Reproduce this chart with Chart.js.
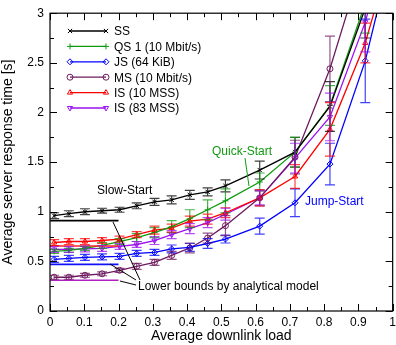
<!DOCTYPE html>
<html>
<head>
<meta charset="utf-8">
<script src="https://cdn.jsdelivr.net/npm/chart.js@4"></script>
<style>
  body { margin: 0; overflow: hidden; background: #fff; }
  #wrap { width: 400px; height: 345px; }
</style>
</head>
<body>
<div id="wrap"><canvas id="grafica" width="400" height="345"></canvas></div>
<script>
// load values (x) shared by all series
const cargas = [0.012, 0.055, 0.102, 0.152, 0.203, 0.253, 0.305, 0.355, 0.408, 0.46, 0.512, 0.612, 0.715, 0.817, 0.92, 0.975];

const ss   = [0.96, 0.98, 1.00, 1.01, 1.02, 1.06, 1.10, 1.12, 1.17, 1.20, 1.26, 1.42, 1.60, 2.06, 3.05, 3.7];
const qs   = [0.60, 0.61, 0.63, 0.66, 0.70, 0.74, 0.79, 0.85, 0.93, 1.02, 1.11, 1.30, 1.60, 2.07, 3.1, 3.7];
const js   = [0.52, 0.53, 0.54, 0.545, 0.55, 0.58, 0.59, 0.625, 0.64, 0.68, 0.725, 0.855, 1.09, 1.48, 2.52, 3.3];
const ms   = [0.34, 0.34, 0.36, 0.375, 0.41, 0.45, 0.49, 0.56, 0.635, 0.735, 0.86, 1.14, 1.55, 2.44, 3.6, 4.5];
const is10 = [0.69, 0.70, 0.70, 0.71, 0.725, 0.77, 0.815, 0.835, 0.905, 0.925, 0.99, 1.14, 1.355, 1.83, 2.70, 3.36];
const is83 = [0.62, 0.62, 0.625, 0.63, 0.65, 0.67, 0.71, 0.77, 0.83, 0.89, 0.975, 1.14, 1.54, 1.955, 2.91, 3.6];

// error bar half widths
const errSS   = [0.03, 0.03, 0.03, 0.025, 0.025, 0.03, 0.035, 0.04, 0.045, 0.04, 0.06, 0.09, 0.15, 0.25, 0.3, 0];
const errQS   = [0.02, 0.02, 0.02, 0.03, 0.03, 0.04, 0.05, 0.06, 0.09, 0.1, 0.12, 0.09, 0.15, 0.2, 0.3, 0];
const errJS   = [0.03, 0.03, 0.03, 0.03, 0.03, 0.03, 0.03, 0.04, 0.04, 0.05, 0.04, 0.08, 0.14, 0.21, 0.42, 0];
const errMS   = [0.02, 0.02, 0.02, 0.02, 0.02, 0.03, 0.03, 0.04, 0.05, 0.05, 0.1, 0.08, 0.17, 0.33, 0.4, 0];
const errIS10 = [0.03, 0.03, 0.03, 0.03, 0.03, 0.03, 0.04, 0.04, 0.05, 0.05, 0.05, 0.08, 0.12, 0.27, 0.2, 0];
const errIS83 = [0.03, 0.03, 0.03, 0.03, 0.03, 0.03, 0.04, 0.04, 0.05, 0.05, 0.06, 0.07, 0.15, 0.24, 0.3, 0];

// analytical lower bounds (load 0 .. 0.2)
const cotaX = [0, 0.2];
const cotaSS = 0.91;
const cotaIS10 = 0.655;
const cotaJS = 0.47;
const cotaMS = 0.31;

const xTicks = [0, 0.1, 0.2, 0.3, 0.4, 0.5, 0.6, 0.7, 0.8, 0.9, 1];
const yTicks = [0, 0.5, 1, 1.5, 2, 2.5, 3];

const FONT = "'Liberation Sans', Arial, sans-serif";

function serie(label, vals, err, color, style, rot) {
  return {
    label: label,
    data: cargas.map((x, i) => ({ x: x, y: vals[i] })),
    err: err,
    borderColor: color,
    backgroundColor: 'rgba(0,0,0,0)',
    borderWidth: 1.3,
    pointStyle: style,
    pointRadius: 3,
    pointRotation: rot || 0,
    pointBorderWidth: 1,
    pointBorderColor: color,
    tension: 0,
    enLeyenda: true
  };
}

function cota(y, color) {
  return {
    data: cotaX.map(x => ({ x: x, y: y })),
    borderColor: color,
    borderWidth: 1.6,
    pointRadius: 0,
    enLeyenda: false
  };
}

const datasets = [
  cota(cotaSS, '#000000'),
  cota(cotaIS10, '#ff2020'),
  cota(cotaJS, '#1010ff'),
  cota(cotaMS, '#b020c0'),
  serie('SS', ss, errSS, '#000000', 'crossRot'),
  serie('QS 1 (10 Mbit/s)', qs, errQS, '#109a10', 'cross'),
  serie('JS (64 KiB)', js, errJS, '#0000ff', 'rectRot'),
  serie('MS (10 Mbit/s)', ms, errMS, '#6e1a5e', 'circle'),
  serie('IS (10 MSS)', is10, errIS10, '#ff0000', 'triangle'),
  serie('IS (83 MSS)', is83, errIS83, '#9a10f0', 'triangle', 180)
];

const marcoPlugin = {
  id: 'marco',
  afterDatasetsDraw(chart) {
    const ctx = chart.ctx;
    const a = chart.chartArea;
    const xs = chart.scales.x, ys = chart.scales.y;
    // error bars
    ctx.save();
    ctx.beginPath();
    ctx.rect(a.left, a.top, a.right - a.left, a.bottom - a.top);
    ctx.clip();
    chart.data.datasets.forEach(ds => {
      if (!ds.err) return;
      ctx.strokeStyle = ds.borderColor;
      ctx.globalAlpha = 0.75;
      ctx.lineWidth = 1.2;
      ds.data.forEach((p, i) => {
        const e = ds.err[i];
        if (!e) return;
        const px = xs.getPixelForValue(p.x);
        const y1 = ys.getPixelForValue(p.y + e);
        const y2 = ys.getPixelForValue(p.y - e);
        ctx.beginPath();
        ctx.moveTo(px, y1); ctx.lineTo(px, y2);
        ctx.moveTo(px - 5, y1); ctx.lineTo(px + 5, y1);
        ctx.moveTo(px - 5, y2); ctx.lineTo(px + 5, y2);
        ctx.stroke();
      });
    });
    ctx.restore();
  },
  afterDraw(chart) {
    const ctx = chart.ctx;
    const a = chart.chartArea;
    const xs = chart.scales.x, ys = chart.scales.y;
    ctx.save();
    ctx.strokeStyle = '#000';
    ctx.lineWidth = 1.2;
    ctx.strokeRect(a.left, a.top, a.right - a.left, a.bottom - a.top);
    ctx.lineWidth = 1;
    ctx.beginPath();
    for (let v = 0; v <= 1.0001; v += 0.05) {
      const px = Math.round(xs.getPixelForValue(v)) + 0.5;
      const major = Math.abs(v * 10 - Math.round(v * 10)) < 0.01;
      const len = major ? 7 : 4;
      ctx.moveTo(px, a.bottom); ctx.lineTo(px, a.bottom - len);
      ctx.moveTo(px, a.top); ctx.lineTo(px, a.top + len);
    }
    for (let v = 0; v <= 3.0001; v += 0.25) {
      const py = Math.round(ys.getPixelForValue(v)) + 0.5;
      const major = Math.abs(v * 2 - Math.round(v * 2)) < 0.01;
      const len = major ? 7 : 4;
      ctx.moveTo(a.left, py); ctx.lineTo(a.left + len, py);
      ctx.moveTo(a.right, py); ctx.lineTo(a.right - len, py);
    }
    ctx.stroke();

    // legend inside the plot
    let fila = 31;
    ctx.font = '12px ' + FONT;
    ctx.textBaseline = 'middle';
    ctx.textAlign = 'left';
    chart.data.datasets.forEach(ds => {
      if (!ds.enLeyenda) return;
      ctx.strokeStyle = ds.borderColor;
      ctx.lineWidth = 1.3;
      ctx.beginPath();
      ctx.moveTo(70, fila); ctx.lineTo(106, fila);
      ctx.stroke();
      ctx.fillStyle = 'rgba(0,0,0,0)';
      ctx.lineWidth = 1;
      [70, 106].forEach(px => {
        Chart.helpers.drawPoint(ctx, { pointStyle: ds.pointStyle, radius: 3, rotation: ds.pointRotation, borderWidth: 1 }, px, fila);
      });
      ctx.fillStyle = '#000';
      ctx.fillText(ds.label, 114, fila + 1);
      fila += 15.4;
    });

    // annotations
    ctx.fillStyle = '#000';
    ctx.fillText('Slow-Start', 97, 191);
    ctx.fillText('Lower bounds by analytical model', 138, 287);
    ctx.fillStyle = '#109a10';
    ctx.fillText('Quick-Start', 212, 152);
    ctx.fillStyle = '#0000ff';
    ctx.fillText('Jump-Start', 305, 202);

    ctx.lineWidth = 1;
    ctx.strokeStyle = '#000';
    ctx.beginPath();
    ctx.moveTo(113, 222); ctx.lineTo(140, 280);
    ctx.moveTo(110, 264); ctx.lineTo(136, 280);
    ctx.moveTo(120, 281); ctx.lineTo(136, 285);
    ctx.stroke();
    ctx.strokeStyle = '#109a10';
    ctx.beginPath();
    ctx.moveTo(245, 158); ctx.lineTo(249, 186);
    ctx.stroke();
    ctx.restore();
  }
};

new Chart(document.getElementById('grafica'), {
  type: 'line',
  data: { datasets: datasets },
  options: {
    responsive: false,
    animation: false,
    layout: { autoPadding: false, padding: { top: 10, right: 3, left: 0, bottom: 0 } },
    plugins: { legend: { display: false }, tooltip: { enabled: false } },
    scales: {
      x: {
        type: 'linear',
        min: 0, max: 1,
        afterBuildTicks: s => { s.ticks = xTicks.map(v => ({ value: v })); },
        afterFit: s => { s.height = 34; },
        grid: { display: false, drawTicks: false },
        border: { display: false },
        ticks: { padding: 4, color: '#000', font: { family: FONT, size: 12 }, maxRotation: 0, autoSkip: false, callback: v => String(v) },
        title: { display: true, text: 'Average downlink load', color: '#000', font: { family: FONT, size: 14 }, padding: { top: 0, bottom: 0 } }
      },
      y: {
        type: 'linear',
        min: 0, max: 3,
        afterBuildTicks: s => { s.ticks = yTicks.map(v => ({ value: v })); },
        afterFit: s => { s.width = 50; },
        grid: { display: false, drawTicks: false },
        border: { display: false },
        ticks: { padding: 6, color: '#000', font: { family: FONT, size: 12 }, callback: v => String(v) },
        title: { display: true, text: 'Average server response time [s]', color: '#000', font: { family: FONT, size: 14 }, padding: { top: 0, bottom: 2 } }
      }
    }
  },
  plugins: [marcoPlugin]
});
</script>
</body>
</html>
